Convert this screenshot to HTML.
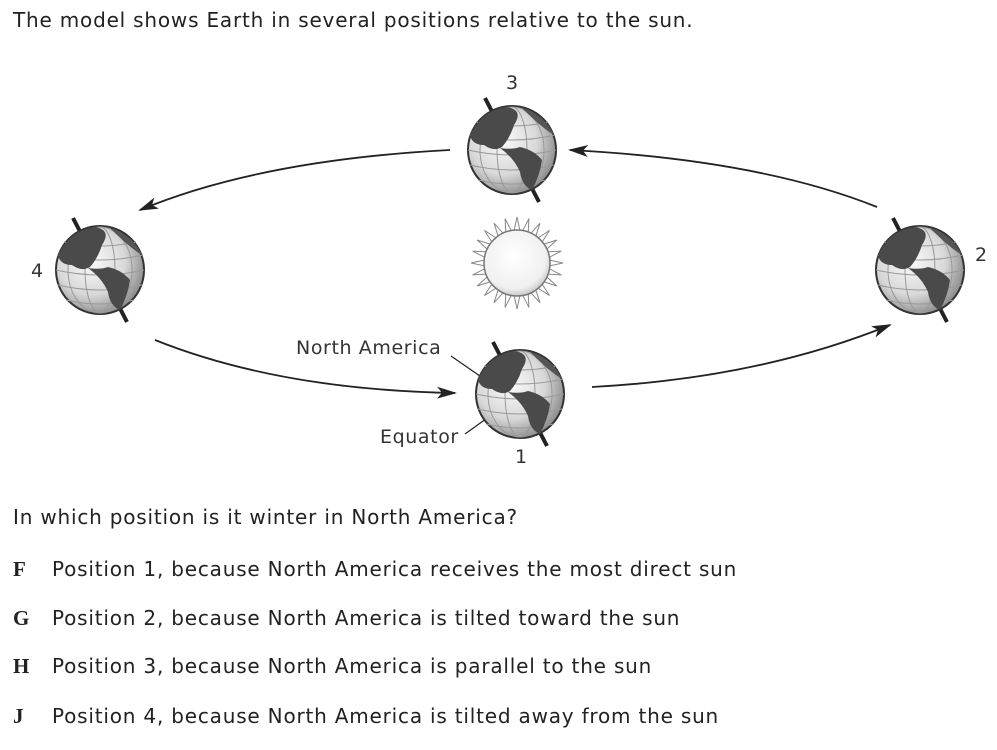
<!DOCTYPE html>
<html><head><style>
body{margin:0;width:997px;height:750px;background:#fff;overflow:hidden;font-family:"DejaVu Sans","Liberation Sans",sans-serif;color:#222}
.t{position:absolute;font-size:20px;letter-spacing:0.8px;white-space:nowrap}
.l{position:absolute;left:13px;font-family:"Liberation Serif",serif;font-weight:bold;font-size:21px}
</style></head><body>
<div class="t" style="left:13px;top:8px">The model shows Earth in several positions relative to the sun.</div>
<svg width="997" height="490" style="position:absolute;left:0;top:0">
<defs>
<radialGradient id="g" cx="0.4" cy="0.4" r="0.7"><stop offset="0" stop-color="#fafafa"/><stop offset="0.55" stop-color="#d8d8d8"/><stop offset="1" stop-color="#777"/></radialGradient>
<radialGradient id="s" cx="0.45" cy="0.4" r="0.7"><stop offset="0" stop-color="#fff"/><stop offset="0.7" stop-color="#f0f0f0"/><stop offset="1" stop-color="#aaa"/></radialGradient>
<marker id="a" markerWidth="20" markerHeight="12" refX="18" refY="6" orient="auto" markerUnits="userSpaceOnUse"><path d="M0,0 L20,6 L0,12 L5,6Z" fill="#222"/></marker>
<g id="e">
<line x1="-27" y1="-52" x2="27" y2="52" stroke="#222" stroke-width="4"/>
<circle r="44" fill="url(#g)" stroke="#333" stroke-width="2"/>
<g stroke="#999" stroke-width="1" fill="none">
<ellipse rx="15" ry="43"/><ellipse rx="32" ry="43"/>
<path d="M-43,-15 Q0,-5 43,-15 M-44,0 Q0,10 44,0 M-42,15 Q0,25 42,15 M-36,-28 Q0,-20 36,-28 M-34,30 Q0,38 34,30"/>
</g>
<path d="M-42,-15 Q-30,-40 -5,-43 Q12,-40 2,-25 Q-2,-12 -10,-3 Q-18,2 -28,-5 Q-40,-5 -42,-15Z" fill="#4a4a4a"/>
<path d="M-12,-2 Q0,0 8,-3 Q22,0 30,10 Q28,25 20,40 Q10,36 8,22 Q2,8 -12,-2Z" fill="#4a4a4a"/>
<path d="M10,-42 Q32,-36 42,-15 Q30,-22 10,-42Z" fill="#555"/>
</g>
</defs>
<g fill="#333" font-family="DejaVu Sans,Liberation Sans,sans-serif" font-size="19">
<text x="506" y="89">3</text><text x="975" y="261">2</text><text x="31" y="277">4</text><text x="515" y="463">1</text>
<text x="296" y="354" letter-spacing="0.6">North America</text><text x="380" y="443" letter-spacing="0.6">Equator</text>
</g>
<g fill="none" stroke="#222" stroke-width="1.8">
<path d="M450,150 Q260,160 140,210" marker-end="url(#a)"/>
<path d="M877,207 Q760,160 570,150" marker-end="url(#a)"/>
<path d="M155,340 Q280,390 455,393" marker-end="url(#a)"/>
<path d="M592,387 Q760,378 890,325" marker-end="url(#a)"/>
<path d="M451,356 L490,383 M465,434 L490,416" stroke-width="1.2"/>
</g>
<use href="#e" x="512" y="150"/>
<use href="#e" x="100" y="270"/>
<use href="#e" x="920" y="270"/>
<use href="#e" x="520" y="394"/>
<g transform="translate(517,263)" fill="#fff" stroke="#888" stroke-width="1">
<g id="r"><path d="M-3,-32 L0,-46 L3,-32"/></g>
<use href="#r" transform="rotate(15)"/><use href="#r" transform="rotate(30)"/><use href="#r" transform="rotate(45)"/><use href="#r" transform="rotate(60)"/><use href="#r" transform="rotate(75)"/><use href="#r" transform="rotate(90)"/><use href="#r" transform="rotate(105)"/><use href="#r" transform="rotate(120)"/><use href="#r" transform="rotate(135)"/><use href="#r" transform="rotate(150)"/><use href="#r" transform="rotate(165)"/><use href="#r" transform="rotate(180)"/><use href="#r" transform="rotate(195)"/><use href="#r" transform="rotate(210)"/><use href="#r" transform="rotate(225)"/><use href="#r" transform="rotate(240)"/><use href="#r" transform="rotate(255)"/><use href="#r" transform="rotate(270)"/><use href="#r" transform="rotate(285)"/><use href="#r" transform="rotate(300)"/><use href="#r" transform="rotate(315)"/><use href="#r" transform="rotate(330)"/><use href="#r" transform="rotate(345)"/>
<circle r="33" fill="url(#s)" stroke="#777" stroke-width="1.5"/>
</g>
</svg>
<div class="t" style="left:13px;top:505px">In which position is it winter in North America?</div>
<div class="l" style="top:557px">F</div><div class="t" style="left:52px;top:557px">Position 1, because North America receives the most direct sun</div>
<div class="l" style="top:606px">G</div><div class="t" style="left:52px;top:606px">Position 2, because North America is tilted toward the sun</div>
<div class="l" style="top:654px">H</div><div class="t" style="left:52px;top:654px">Position 3, because North America is parallel to the sun</div>
<div class="l" style="top:704px">J</div><div class="t" style="left:52px;top:704px">Position 4, because North America is tilted away from the sun</div>
</body></html>
